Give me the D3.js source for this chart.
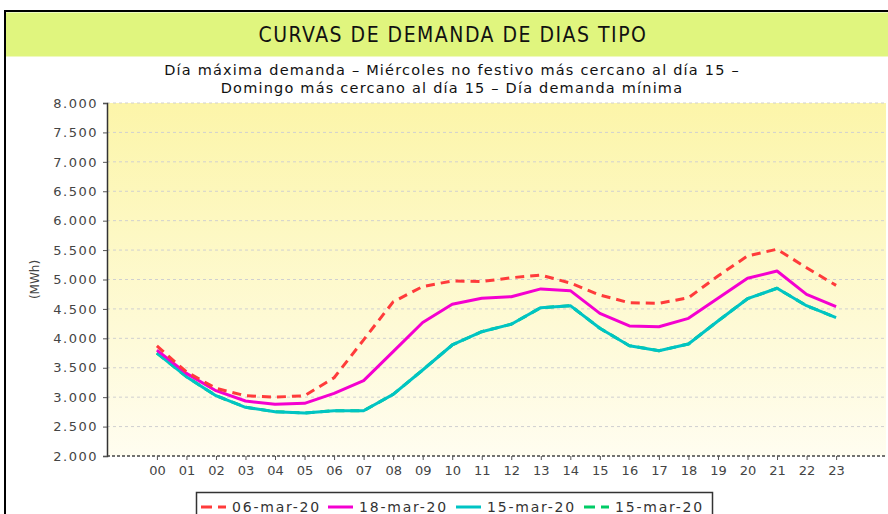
<!DOCTYPE html>
<html>
<head>
<meta charset="utf-8">
<script src="https://cdn.jsdelivr.net/npm/d3@7"></script>
<style>
  body { margin:0; background:#fff; }
  svg { display:block; }
  text { font-family:"DejaVu Sans", sans-serif; }
</style>
</head>
<body>
<div id="chart"></div>
<script>
// data
var hours = ['00','01','02','03','04','05','06','07','08','09','10','11',
             '12','13','14','15','16','17','18','19','20','21','22','23']
var yTicks = [2000,2500,3000,3500,4000,4500,5000,5500,6000,6500,7000,7500,8000]
var maxDay   = [3870,3430,3150,3025,3000,3025,3330,3975,4620,4880,4975,4965,
                5030,5075,4940,4735,4605,4595,4690,5060,5400,5515,5200,4900]
var wedDay   = [3800,3405,3110,2935,2880,2895,3065,3280,3775,4270,4578,4680,
                4708,4840,4810,4425,4210,4198,4340,4680,5020,5145,4748,4540]
var sunDay   = [3750,3348,3025,2828,2753,2731,2770,2770,3048,3462,3887,4113,
                4240,4521,4555,4171,3875,3790,3904,4295,4674,4851,4555,4351]
var minDay   = sunDay.slice()
var seriesNames = ['06-mar-20','18-mar-20','15-mar-20','15-mar-20']

var series = [
    { name:seriesNames[0], values:maxDay, color:'#ff3b3b', dash:'9 6' },
    { name:seriesNames[1], values:wedDay, color:'#f400d0', dash:null },
    { name:seriesNames[2], values:sunDay, color:'#00c4c4', dash:null },
    { name:seriesNames[3], values:minDay, color:'#00cc66', dash:'9 6' }
]

var W = 888, H = 514
var m = { top:103, right:2, bottom:58, left:107 }

var svg = d3.select('#chart').append('svg')
    .attr('width', W)
    .attr('height', H)

// frame + title bar
svg.append('rect')
    .attr('x', 5).attr('y', 11)
    .attr('width', W+10).attr('height', H+10)
    .attr('fill', '#fff')
    .attr('stroke', '#000')
    .attr('stroke-width', 2)

svg.append('rect')
    .attr('x', 6).attr('y', 12.5)
    .attr('width', W).attr('height', 44)
    .attr('fill', '#e0f57e')

svg.append('text')
    .attr('x', 453).attr('y', 42)
    .attr('text-anchor', 'middle')
    .style('font-family', '"DejaVu Sans Condensed", "DejaVu Sans", sans-serif')
    .style('font-size', '21px')
    .style('letter-spacing', '1.5px')
    .attr('fill', '#111')
    .text('CURVAS DE DEMANDA DE DIAS TIPO')

var sub = svg.append('text')
    .attr('text-anchor', 'middle')
    .style('font-size', '14.5px')
    .style('letter-spacing', '1.2px')
    .attr('fill', '#111')
sub.append('tspan').attr('x', 452).attr('y', 75)
    .text('Día máxima demanda – Miércoles no festivo más cercano al día 15 –')
sub.append('tspan').attr('x', 452).attr('y', 93)
    .text('Domingo más cercano al día 15 – Día demanda mínima')

// scales
var x = d3.scalePoint()
    .domain(hours)
    .range([m.left, W-m.right])
    .padding(1.69)

var y = d3.scaleLinear()
    .domain([2000, 8000])
    .range([H-m.bottom, m.top])

// plot background gradient
var defs = svg.append('defs')
var grad = defs.append('linearGradient')
    .attr('id', 'bg').attr('x1', 0).attr('y1', 0).attr('x2', 0).attr('y2', 1)
grad.append('stop').attr('offset', '0%').attr('stop-color', '#fcf5a9')
grad.append('stop').attr('offset', '100%').attr('stop-color', '#fffdf0')

svg.append('rect')
    .attr('x', m.left).attr('y', m.top)
    .attr('width', W-m.right-m.left)
    .attr('height', H-m.bottom-m.top)
    .attr('fill', 'url(#bg)')

// grid
svg.append('g')
    .selectAll('line')
    .data(yTicks.slice(1))
    .join('line')
    .attr('x1', m.left).attr('x2', W-m.right)
    .attr('y1', d=> y(d)).attr('y2', d=> y(d))
    .attr('stroke', '#d0d0d0')
    .attr('stroke-width', 1)
    .attr('stroke-dasharray', '3 3')

// y axis
var yAxis = d3.axisLeft(y)
    .tickValues(yTicks)
    .tickSize(4)
    .tickFormat(d=> d3.format(',.0f')(d).replace(',', '.'))

var gy = svg.append('g')
    .attr('transform', 'translate(' + m.left + ',0)')
    .call(yAxis)
gy.select('.domain').attr('stroke', '#333').attr('stroke-width', 1.5)
gy.selectAll('.tick line').attr('stroke', '#555')
gy.selectAll('.tick text')
    .attr('x', -9)
    .attr('fill', '#444')
    .style('font-size', '13px')
    .style('letter-spacing', '1.5px')

// x axis
var xAxis = d3.axisBottom(x).tickSize(4).tickSizeOuter(0)
var gx = svg.append('g')
    .attr('transform', 'translate(0,' + (H-m.bottom) + ')')
    .call(xAxis)
gx.select('.domain')
    .attr('d', 'M' + m.left + ',0H' + (W-m.right))
    .attr('stroke', '#444')
    .attr('stroke-width', 1.5)
    .attr('stroke-dasharray', '3 2')
gx.selectAll('.tick line').attr('stroke', '#555')
gx.selectAll('.tick text')
    .attr('y', 10)
    .attr('fill', '#444')
    .style('font-size', '13px')

svg.append('text')
    .attr('transform', 'translate(39,' + y(5000) + ') rotate(-90)')
    .attr('text-anchor', 'middle')
    .attr('fill', '#444')
    .style('font-size', '12px')
    .text('(MWh)')

// lines, last series drawn first
var line = d3.line()
    .x((d, i)=> x(hours[i]))
    .y(d=> y(d))

svg.append('g')
    .selectAll('path')
    .data(series.slice().reverse())
    .join('path')
    .attr('d', d=> line(d.values))
    .attr('fill', 'none')
    .attr('stroke', d=> d.color)
    .attr('stroke-width', 3)
    .attr('stroke-dasharray', d=> d.dash)
    .attr('stroke-linejoin', 'round')

// legend
var lg = svg.append('g')
lg.append('rect')
    .attr('x', 196.5).attr('y', 492.5)
    .attr('width', 516).attr('height', 30)
    .attr('fill', '#fff')
    .attr('stroke', '#333')
    .attr('stroke-width', 1.5)

var legendX = [201, 328, 456, 584]
series.forEach(function(s, i) {
    var lx = legendX[i]
    lg.append('line')
        .attr('x1', lx).attr('x2', lx+25)
        .attr('y1', 507).attr('y2', 507)
        .attr('stroke', s.color)
        .attr('stroke-width', 3)
        .attr('stroke-dasharray', s.dash ? '11 6' : null)
    lg.append('text')
        .attr('x', lx+31).attr('y', 512)
        .attr('fill', '#333')
        .style('font-size', '14px')
        .style('letter-spacing', '1.8px')
        .text(s.name)
})
</script>
</body>
</html>
